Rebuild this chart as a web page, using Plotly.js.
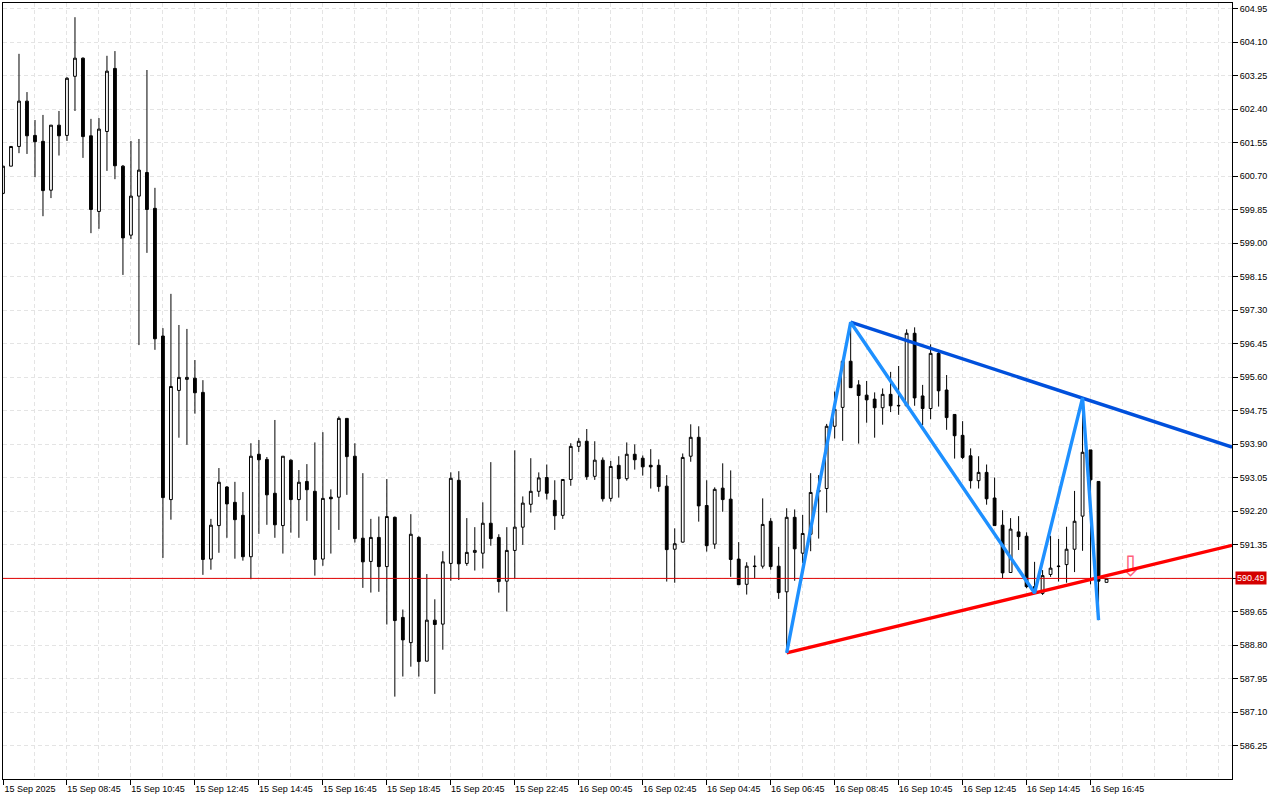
<!DOCTYPE html>
<html>
<head>
<meta charset="utf-8">
<script src="https://cdn.plot.ly/plotly-3.0.1.min.js"></script>
<style>html,body{margin:0;padding:0;background:#fff}#chart{width:1280px;height:800px}</style>
</head>
<body>
<div id="chart"></div>
<script>
const opens = [600.26,600.95,601.45,602.60,601.73,601.58,600.34,601.99,601.73,603.23,
603.69,601.72,599.80,601.83,603.43,600.95,599.20,600.19,600.79,599.88,
596.64,592.49,595.26,595.54,595.57,595.21,590.98,591.83,592.81,592.42,
592.09,591.04,593.64,593.51,592.65,591.83,593.49,592.49,592.95,592.70,
590.98,592.55,592.55,594.55,593.59,591.51,590.92,591.53,590.79,592.04,
589.50,588.86,591.53,588.39,589.43,589.33,590.87,592.98,590.87,591.15,
591.13,591.89,591.53,590.42,591.20,591.79,592.37,592.70,593.05,592.47,
592.09,593.00,593.84,593.97,593.08,593.49,592.52,593.36,593.02,593.64,
593.54,593.36,593.36,592.83,591.23,591.41,593.59,594.07,592.34,591.36,
592.78,592.50,590.98,590.34,590.79,590.80,591.94,590.80,590.15,592.04,
591.13,591.61,592.73,592.77,594.35,594.83,596.00,595.40,595.14,595.04,
594.82,595.16,594.88,594.87,596.71,595.12,594.80,596.20,595.27,594.65,
594.12,593.60,592.97,593.18,592.53,591.84,590.64,591.67,591.56,590.28,
590.11,590.59,590.79,590.84,591.23,592.07,593.75,592.95,590.39];
const highs = [600.95,601.45,603.80,602.83,602.12,602.25,601.99,602.35,603.21,604.73,
603.71,602.15,602.17,603.75,603.87,600.98,601.59,601.64,603.39,600.40,
596.84,597.71,596.92,596.82,596.03,595.52,592.00,593.29,592.83,592.94,
592.68,593.92,594.00,593.57,594.51,593.59,593.51,593.24,593.39,593.94,
594.20,592.75,594.60,594.55,593.92,593.16,592.00,592.06,593.01,592.06,
589.70,592.12,591.56,590.60,589.96,591.18,593.18,593.21,592.02,591.79,
592.42,593.44,591.61,591.79,593.74,592.57,593.54,593.18,593.38,592.98,
593.00,593.92,594.05,594.28,593.97,593.56,593.47,593.59,593.94,593.89,
593.61,593.77,593.51,593.11,591.76,593.66,594.40,594.35,592.98,592.80,
593.41,593.23,591.41,590.90,591.07,592.52,592.02,591.29,592.27,592.24,
592.10,593.16,593.11,594.41,595.23,596.00,596.99,595.52,595.50,595.21,
595.31,595.73,595.88,596.81,596.86,595.40,596.43,596.29,595.65,594.65,
594.48,593.79,593.59,593.38,593.05,592.22,592.02,592.07,591.66,590.91,
590.70,591.57,591.49,591.80,592.71,595.07,593.75,592.95,590.49];
const lows = [600.24,600.95,601.28,601.26,600.67,599.68,600.14,601.22,601.59,602.35,
601.16,599.25,599.36,600.83,600.62,598.19,599.10,596.41,598.75,596.29,
591.01,591.98,594.06,593.88,594.67,590.58,590.71,591.14,591.52,590.99,
590.94,590.47,591.62,591.85,591.52,591.12,591.65,591.52,591.95,590.56,
590.81,591.12,591.72,592.61,591.40,590.25,590.13,590.15,589.32,587.49,
588.00,588.25,588.00,588.39,587.56,588.68,590.43,590.45,590.81,590.69,
590.74,591.32,590.13,589.65,590.49,591.34,592.16,592.56,592.49,591.72,
592.00,592.84,593.70,592.99,592.99,592.44,592.44,592.54,592.97,593.25,
593.10,592.77,592.69,590.41,590.38,591.40,593.45,591.93,591.17,591.24,
592.18,590.53,590.33,590.08,590.50,590.74,590.71,589.97,588.60,590.43,
590.88,591.18,591.50,592.16,594.04,593.98,595.33,593.91,594.44,594.06,
594.39,594.71,594.64,594.87,594.87,594.38,594.53,594.85,594.26,593.53,
593.52,592.77,592.77,592.36,591.83,590.50,590.64,591.21,590.24,590.11,
590.07,590.53,590.41,590.38,590.65,591.19,590.34,589.43,590.39];
const closes = [600.95,601.45,602.60,601.72,601.57,600.33,601.99,601.72,603.18,603.69,
601.70,599.85,601.89,603.36,600.96,599.13,600.19,600.85,599.85,596.57,
592.54,595.36,595.59,595.59,595.20,590.97,591.84,592.93,592.38,591.98,
591.04,593.59,593.50,592.61,591.85,593.59,592.49,592.93,592.74,590.97,
592.52,592.51,594.55,593.58,591.50,590.91,591.53,590.79,592.06,589.42,
588.93,591.61,588.38,589.43,589.32,590.91,593.03,590.86,591.15,591.20,
591.89,591.50,590.41,591.20,591.79,592.40,592.70,593.04,592.65,592.08,
593.00,593.84,593.97,593.07,593.49,592.51,593.33,593.02,593.64,593.50,
593.32,593.32,592.82,591.22,591.37,593.56,594.07,592.33,591.32,592.75,
592.49,590.97,590.33,590.80,590.80,591.86,590.79,590.13,592.04,591.24,
591.63,592.67,592.69,594.35,594.78,596.00,595.33,595.13,595.02,594.82,
595.16,594.87,594.87,596.71,595.07,594.80,596.20,595.25,594.57,594.11,
593.56,592.97,593.18,592.51,591.83,590.63,591.74,591.55,590.28,590.11,
590.56,590.75,590.80,591.23,591.94,593.69,592.99,590.42,590.49];

const tickLabels = ["15 Sep 2025","15 Sep 08:45","15 Sep 10:45","15 Sep 12:45","15 Sep 14:45","15 Sep 16:45",
"15 Sep 18:45","15 Sep 20:45","15 Sep 22:45","16 Sep 00:45","16 Sep 02:45","16 Sep 04:45","16 Sep 06:45",
"16 Sep 08:45","16 Sep 10:45","16 Sep 12:45","16 Sep 14:45","16 Sep 16:45"];
const priceTicks = [604.95,604.10,603.25,602.40,601.55,600.70,599.85,599.00,598.15,597.30,596.45,595.60,
594.75,593.90,593.05,592.20,591.35,590.50,589.65,588.80,587.95,587.10,586.25];
const priceTickLabels = ["604.95","604.10","603.25","602.40","601.55","600.70","599.85","599.00","598.15",
"597.30","596.45","595.60","594.75","593.90","593.05","592.20","591.35","","589.65","588.80","587.95","587.10","586.25"];

const zigzagIdx = [98,106,129,135,137];
const zigzagPrice = [588.60,596.99,590.12,595.07,589.43];
const upperIdx = [106,135,153.69];
const upperPrice = [596.99,595.07,593.82];
const lowerIdx = [98,129,153.69];
const lowerPrice = [588.60,590.12,591.33];
const lastPrice = 590.49;
const arrowIdx = [141];
const arrowPrice = [590.37];

const candleIdx = opens.map((_, i) => i);
const tickIdx = tickLabels.map((_, i) => i * 8);
const xRange = [0, 153.6875];
const font = '"Liberation Sans", sans-serif';

const traces = [
  {type:'candlestick', x:candleIdx, open:opens, high:highs, low:lows, close:closes,
   increasing:{line:{color:'#000',width:1}, fillcolor:'#fff'},
   decreasing:{line:{color:'#000',width:1}, fillcolor:'#000'},
   whiskerwidth:0, hoverinfo:'skip', showlegend:false},
  {type:'scatter', mode:'lines', x:xRange, y:[lastPrice,lastPrice], line:{color:'#e00000',width:1},
   hoverinfo:'skip', showlegend:false},
  {type:'scatter', mode:'text', x:arrowIdx, y:arrowPrice, text:['⇩'], textposition:'top center',
   textfont:{family:'"DejaVu Sans"',size:28,color:'#ff5f7a'}, hoverinfo:'skip', showlegend:false},
  {type:'scatter', mode:'lines', x:upperIdx, y:upperPrice, line:{color:'#0050dc',width:3.4},
   hoverinfo:'skip', showlegend:false},
  {type:'scatter', mode:'lines', x:lowerIdx, y:lowerPrice, line:{color:'#ff0000',width:3.4},
   hoverinfo:'skip', showlegend:false},
  {type:'scatter', mode:'lines', x:zigzagIdx, y:zigzagPrice, line:{color:'#1e90ff',width:3.4},
   hoverinfo:'skip', showlegend:false}
];

const layout = {
  width:1280, height:800, paper_bgcolor:'#fff', plot_bgcolor:'#fff',
  margin:{l:2.5,r:48,t:3,b:21,pad:0}, showlegend:false, hovermode:false, boxgap:0.5,
  font:{family:font,size:9,color:'#000'},
  xaxis:{type:'linear', range:xRange, autorange:false, rangeslider:{visible:false},
    tickmode:'array', tickvals:tickIdx, ticktext:tickLabels, ticklabelshift:27, ticklabelstandoff:-4, tickangle:0,
    ticks:'outside', ticklen:5, tickwidth:1, tickcolor:'#000',
    tickfont:{family:font,size:9,color:'#000'},
    showline:true, linecolor:'#000', linewidth:1, mirror:true, zeroline:false,
    showgrid:true, gridcolor:'#e4e4e4', gridwidth:1, griddash:'4px,3px',
    minor:{tickmode:'linear', tick0:0, dtick:4, showgrid:true, gridcolor:'#e4e4e4', gridwidth:1, griddash:'4px,3px', ticks:''}},
  yaxis:{side:'right', range:[585.40,605.09], autorange:false, tickmode:'array',
    tickvals:priceTicks, ticktext:priceTickLabels,
    ticks:'outside', ticklen:5, tickwidth:1, tickcolor:'#000',
    tickfont:{family:font,size:9,color:'#000'},
    showline:true, linecolor:'#000', linewidth:1, mirror:true, zeroline:false,
    showgrid:true, gridcolor:'#e4e4e4', gridwidth:1, griddash:'4px,3px'},
  annotations:[{xref:'paper', x:1, xanchor:'left', xshift:3, yref:'y', y:lastPrice, yanchor:'middle',
    text:'590.49', showarrow:false, bgcolor:'#d40000', borderpad:1,
    font:{family:font,size:9,color:'#fff'}}]
};
Plotly.newPlot('chart', traces, layout, {displayModeBar:false, staticPlot:true});
</script>
</body>
</html>
